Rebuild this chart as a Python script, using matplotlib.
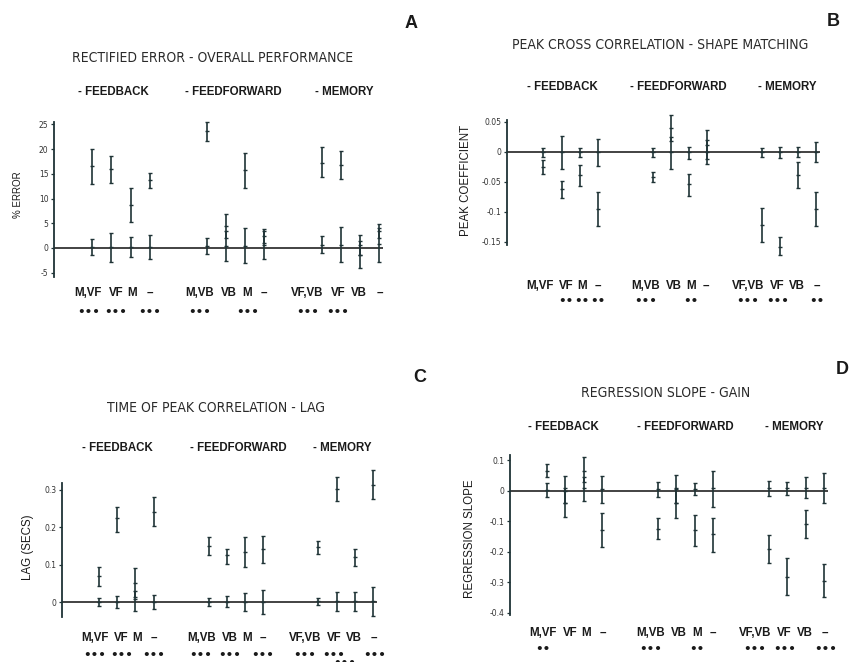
import matplotlib
matplotlib.use("Agg")
import matplotlib.pyplot as plt
import matplotlib.transforms as mtransforms
from matplotlib import font_manager

W, H = 853, 662
fig = plt.figure(figsize=(W / 100, H / 100), dpi=100)
fig.patch.set_facecolor("white")

# ---------------- data ----------------
positions = [1, 2, 3, 4, 7, 8, 9, 10, 13, 14, 15, 16]
cat_labels = ["M,VF", "VF", "M", "–", "M,VB", "VB", "M", "–", "VF,VB", "VF", "VB", "–"]

# Panel A: rectified error (%)
a_cond_mean = [16.5, 15.9, 8.7, 13.7, 23.6, 4.4, 15.8, 2.4, 17.2, 16.8, -1.4, 3.4]
a_cond_lo = [13.0, 13.2, 5.2, 12.2, 21.6, 2.0, 12.2, 1.0, 14.3, 14.0, -4.1, 2.0]
a_cond_hi = [20.0, 18.6, 12.2, 15.2, 25.6, 6.8, 19.3, 3.8, 20.4, 19.6, 1.3, 4.8]
a_ctrl_mean = [0.2, 0.2, 0.2, 0.2, 0.4, 0.4, 0.4, 0.6, 0.6, 0.6, 0.6, 0.7]
a_ctrl_lo = [-1.5, -2.8, -1.8, -2.2, -1.3, -2.6, -3.1, -2.2, -1.1, -2.9, -1.5, -2.8]
a_ctrl_hi = [1.8, 3.1, 2.2, 2.6, 2.0, 3.4, 4.0, 3.4, 2.4, 4.2, 2.7, 4.0]
a_stars = ["•••", "•••", "", "•••", "•••", "", "•••", "", "•••", "•••", "", ""]
a_ticks = [-5, 0, 5, 10, 15, 20, 25]
a_ticklabels = ["-5", "0", "5", "10", "15", "20", "25"]

# Panel B: peak cross correlation
b_cond_mean = [-0.025, -0.062, -0.039, -0.095, -0.042, 0.040, -0.054, 0.012, -0.122, -0.158, -0.038, -0.095]
b_cond_lo = [-0.036, -0.077, -0.057, -0.123, -0.050, 0.018, -0.073, -0.012, -0.150, -0.171, -0.060, -0.123]
b_cond_hi = [-0.014, -0.048, -0.021, -0.066, -0.033, 0.062, -0.036, 0.036, -0.094, -0.142, -0.016, -0.066]
b_ctrl_mean = [0.0] * 12
b_ctrl_lo = [-0.008, -0.028, -0.009, -0.023, -0.009, -0.029, -0.012, -0.020, -0.008, -0.010, -0.009, -0.017]
b_ctrl_hi = [0.006, 0.027, 0.007, 0.021, 0.006, 0.025, 0.008, 0.020, 0.006, 0.009, 0.008, 0.016]
b_stars = ["", "••", "••", "••", "•••", "", "••", "", "•••", "•••", "", "••"]
b_ticks = [-0.15, -0.1, -0.05, 0, 0.05]
b_ticklabels = ["-0.15", "-0.1", "-0.05", "0", "0.05"]

# Panel C: lag (secs)
c_cond_mean = [0.071, 0.226, 0.052, 0.242, 0.150, 0.125, 0.133, 0.142, 0.147, 0.303, 0.120, 0.313]
c_cond_lo = [0.044, 0.188, 0.013, 0.204, 0.125, 0.102, 0.094, 0.104, 0.129, 0.271, 0.098, 0.276]
c_cond_hi = [0.094, 0.253, 0.091, 0.280, 0.173, 0.143, 0.173, 0.178, 0.164, 0.335, 0.142, 0.353]
c_ctrl_mean = [0.0, 0.0, 0.010, 0.0, 0.0, 0.002, 0.002, 0.002, 0.003, 0.003, 0.003, 0.003]
c_ctrl_lo = [-0.011, -0.016, -0.024, -0.019, -0.011, -0.013, -0.024, -0.030, -0.008, -0.024, -0.023, -0.037]
c_ctrl_hi = [0.012, 0.016, 0.030, 0.020, 0.012, 0.018, 0.025, 0.032, 0.012, 0.027, 0.027, 0.042]
c_stars = ["•••", "•••", "", "•••", "•••", "•••", "", "•••", "•••", "•••", "", "•••"]
c_stars_low = ["", "", "", "", "", "", "", "", "", "", "•••", ""]
c_ticks = [0, 0.1, 0.2, 0.3]
c_ticklabels = ["0", "0.1", "0.2", "0.3"]

# Panel D: regression slope
d_cond_mean = [0.066, -0.040, 0.065, -0.129, -0.125, -0.040, -0.129, -0.143, -0.190, -0.282, -0.109, -0.295]
d_cond_lo = [0.044, -0.087, 0.030, -0.184, -0.160, -0.089, -0.181, -0.200, -0.238, -0.342, -0.156, -0.350]
d_cond_hi = [0.0875, 0.010, 0.109, -0.074, -0.091, 0.010, -0.080, -0.091, -0.145, -0.222, -0.063, -0.240]
d_ctrl_mean = [0.003, 0.0, 0.010, 0.005, 0.005, 0.005, 0.005, 0.008, 0.008, 0.008, 0.010, 0.010]
d_ctrl_lo = [-0.021, -0.040, -0.033, -0.042, -0.020, -0.040, -0.014, -0.052, -0.017, -0.013, -0.025, -0.042]
d_ctrl_hi = [0.026, 0.048, 0.046, 0.048, 0.028, 0.051, 0.024, 0.066, 0.032, 0.027, 0.044, 0.059]
d_stars = ["••", "", "", "", "•••", "", "••", "", "•••", "•••", "", "•••"]
d_ticks = [-0.4, -0.3, -0.2, -0.1, 0, 0.1]
d_ticklabels = ["-0.4", "-0.3", "-0.2", "-0.1", "0", "0.1"]

legend_items = ["- FEEDBACK", "- FEEDFORWARD", "- MEMORY"]

# ---------------- styling ----------------
BAR = "#1f3336"
TXT = "#1a1a1a"
SANS = ["Liberation Sans", "DejaVu Sans"]
label_off = [-0.2, 0.25, 0.1, 0.0, -0.4, 0.15, 0.1, -0.05, -0.75, -0.15, -0.05, 0.05]

# narrow font for the plotter-style titles, if a condensed face is installed
_names = {f.name for f in font_manager.fontManager.ttflist}
_condensed = any(f.name == "DejaVu Sans" and "Condensed" in f.fname
                 for f in font_manager.fontManager.ttflist)
if "Liberation Sans Narrow" in _names:
    TITLE_KW = dict(family=["Liberation Sans Narrow", "DejaVu Sans"], fontsize=10.5)
elif _condensed:
    TITLE_KW = dict(family=["DejaVu Sans"], fontstretch="condensed", fontsize=10)
else:
    TITLE_KW = dict(family=["DejaVu Sans"], fontsize=8.5)


def fx(px):
    return px / W


def fy(py):
    return 1 - py / H


def make_panel(rect_px, ylim, ticks, ticklabels, cond, ctrl, stars, ylabel, ylabel_xy,
               ylabel_size, title, title_xy, legend_x, legend_y, letter, letter_xy,
               label_y, stars_y, stars_low=None, stars_low_y=None):
    x0, x1, y0, y1 = rect_px
    ax = fig.add_axes([fx(x0), fy(y1), fx(x1 - x0), (y1 - y0) / H])
    ax.set_xlim(-1, 16.2)
    ax.set_ylim(*ylim)
    for s in ["top", "right", "bottom"]:
        ax.spines[s].set_visible(False)
    ax.spines["left"].set_linewidth(1.3)
    ax.spines["left"].set_color(BAR)
    ax.set_xticks([])
    ax.set_yticks(ticks)
    ax.set_yticklabels(ticklabels, fontsize=5.5, family=["DejaVu Sans"], color="#333333")
    ax.tick_params(axis="y", length=2.5, width=0.9, pad=1.5, color=BAR)
    ax.set_facecolor("none")
    ax.axhline(0, color="#222222", lw=1.2, zorder=1)
    for (m, lo, hi) in (cond, ctrl):
        yerr = [[mm - l for mm, l in zip(m, lo)], [h - mm for mm, h in zip(m, hi)]]
        ax.errorbar(positions, m, yerr=yerr, fmt="_", color=BAR, ecolor=BAR,
                    elinewidth=1.2, capsize=1.6, capthick=1.0, markersize=3,
                    markeredgewidth=1.0, clip_on=False, zorder=3)
    tr = mtransforms.blended_transform_factory(ax.transData, fig.transFigure)
    for p, lab, off, st in zip(positions, cat_labels, label_off, stars):
        ax.text(p + off, fy(label_y), lab, transform=tr, ha="center", va="center",
                fontsize=8.3, fontweight="bold", family=SANS, color=TXT)
        if st:
            ax.text(p + off, fy(stars_y), st, transform=tr, ha="center", va="center",
                    fontsize=8.5, fontweight="bold", family=["DejaVu Sans"], color=TXT)
    if stars_low:
        for p, st in zip(positions, stars_low):
            if st:
                ax.text(p - 0.55, fy(stars_low_y), st, transform=tr, ha="center",
                        va="center", fontsize=8.5, fontweight="bold",
                        family=["DejaVu Sans"], color=TXT)
    fig.text(fx(ylabel_xy[0]), fy(ylabel_xy[1]), ylabel, rotation=90, ha="center",
             va="center", fontsize=ylabel_size, family=SANS, color=TXT)
    fig.text(fx(title_xy[0]), fy(title_xy[1]), title, ha="center", va="center",
             color="#2a2a2a", **TITLE_KW)
    for lx, item in zip(legend_x, legend_items):
        fig.text(fx(lx), fy(legend_y), item, ha="left", va="center", fontsize=8.3,
                 fontweight="bold", family=SANS, color=TXT)
    fig.text(fx(letter_xy[0]), fy(letter_xy[1]), letter, ha="center", va="center",
             fontsize=13, fontweight="bold", family=SANS, color=TXT)
    return ax


make_panel((54, 383, 122, 277), (-5.9, 25.5), a_ticks, a_ticklabels,
           (a_cond_mean, a_cond_lo, a_cond_hi), (a_ctrl_mean, a_ctrl_lo, a_ctrl_hi),
           a_stars, "% ERROR", (18, 195), 7, "RECTIFIED ERROR - OVERALL PERFORMANCE",
           (213, 58), (78, 185, 315), 92, "A", (411, 23), 293, 312)

make_panel((507, 820, 120, 245), (-0.155, 0.0533), b_ticks, b_ticklabels,
           (b_cond_mean, b_cond_lo, b_cond_hi), (b_ctrl_mean, b_ctrl_lo, b_ctrl_hi),
           b_stars, "PEAK COEFFICIENT", (466, 180), 8.3,
           "PEAK CROSS CORRELATION - SHAPE MATCHING", (660, 45), (527, 630, 758), 87,
           "B", (833, 22), 286, 302)

make_panel((62, 377, 483, 617), (-0.039, 0.318), c_ticks, c_ticklabels,
           (c_cond_mean, c_cond_lo, c_cond_hi), (c_ctrl_mean, c_ctrl_lo, c_ctrl_hi),
           c_stars, "LAG (SECS)", (28, 547), 8.3, "TIME OF PEAK CORRELATION - LAG",
           (216, 408), (82, 190, 313), 448, "C", (420, 378), 638, 655,
           stars_low=c_stars_low, stars_low_y=663)

make_panel((510, 828, 455, 615), (-0.408, 0.117), d_ticks, d_ticklabels,
           (d_cond_mean, d_cond_lo, d_cond_hi), (d_ctrl_mean, d_ctrl_lo, d_ctrl_hi),
           d_stars, "REGRESSION SLOPE", (470, 539), 8.3, "REGRESSION SLOPE - GAIN",
           (666, 393), (528, 637, 765), 427, "D", (842, 369), 633, 650)

fig.savefig("out.png", dpi=100, facecolor="white")
